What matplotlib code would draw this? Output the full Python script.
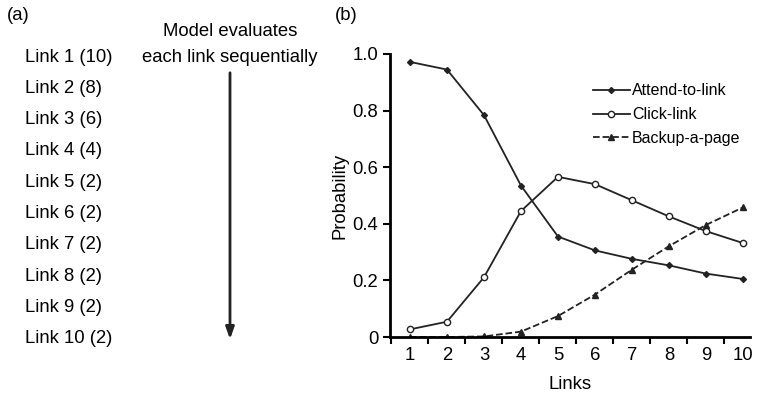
import numpy as np
import matplotlib
matplotlib.use('Agg')
import matplotlib.pyplot as plt

plt.rcParams['font.family'] = ['Liberation Sans', 'DejaVu Sans']

links = [1, 2, 3, 4, 5, 6, 7, 8, 9, 10]
attend = [0.972, 0.945, 0.784, 0.535, 0.355, 0.306, 0.276, 0.253, 0.224, 0.205]
click = [0.027, 0.054, 0.211, 0.445, 0.566, 0.540, 0.483, 0.426, 0.374, 0.332]
backup = [0.0, 0.0, 0.002, 0.019, 0.074, 0.150, 0.238, 0.321, 0.396, 0.458]
link_labels = ['Link 1 (10)', 'Link 2 (8)', 'Link 3 (6)', 'Link 4 (4)', 'Link 5 (2)',
               'Link 6 (2)', 'Link 7 (2)', 'Link 8 (2)', 'Link 9 (2)', 'Link 10 (2)']

W, H = 759, 393
fig = plt.figure(figsize=(W / 100, H / 100), dpi=100)

# panel (a): plain text placed in figure pixels
def fx(x):
    return x / W
def fy(y):
    return 1 - y / H

fs = 13.3
fig.text(fx(7), fy(15), '(a)', fontsize=fs, va='center', ha='left')
fig.text(fx(335), fy(15), '(b)', fontsize=fs, va='center', ha='left')
fig.text(fx(230), fy(32), 'Model evaluates', fontsize=fs, va='center', ha='center')
fig.text(fx(230), fy(57), 'each link sequentially', fontsize=fs, va='center', ha='center')
for i, lab in enumerate(link_labels):
    fig.text(fx(25), fy(57 + i * 31.3), lab, fontsize=fs, va='center', ha='left')
fig.patches.append(matplotlib.patches.FancyArrowPatch(
    (fx(230), fy(70)), (fx(230), fy(342)), transform=fig.transFigure,
    arrowstyle='-|>,head_length=7,head_width=2.5', color='#222222', lw=2))

# panel (b)
ax = fig.add_axes([390 / W, 1 - 337 / H, 360 / W, (337 - 54) / H])
ax.plot(links, attend, '-', color='#222222', lw=1.3, marker='D', ms=3,
        mfc='#222222', label='Attend-to-link')
ax.plot(links, click, '-', color='#222222', lw=1.3, marker='o', ms=4.5,
        mfc='white', mew=1, label='Click-link')
ax.plot(links, backup, '--', color='#222222', lw=1.3, marker='^', ms=4,
        mfc='#222222', label='Backup-a-page')

ax.set_xlim(0.46, 10.19)
ax.set_ylim(0, 1.0)
ax.set_xticks(links)
ax.set_xticks(np.arange(0.5, 10, 1), minor=True)
ax.tick_params(axis='x', which='major', length=0, labelsize=fs, pad=7)
ax.tick_params(axis='x', which='minor', length=5, width=1.5, direction='out')
ax.set_yticks([0, 0.2, 0.4, 0.6, 0.8, 1.0])
ax.set_yticklabels(['0', '0.2', '0.4', '0.6', '0.8', '1.0'])
ax.tick_params(axis='y', length=5, width=1.5, labelsize=fs, direction='out')
for s in ['top', 'right']:
    ax.spines[s].set_visible(False)
for s in ['left', 'bottom']:
    ax.spines[s].set_linewidth(2)
ax.set_xlabel('Links', fontsize=fs, labelpad=9)
ax.set_ylabel('Probability', fontsize=fs, labelpad=3)
ax.legend(loc='upper right', bbox_to_anchor=(1.0, 0.93), frameon=False, fontsize=11.5,
          handlelength=2.3, handletextpad=0.15, labelspacing=0.55, borderaxespad=0.2)

fig.savefig('out.png', dpi=100)
